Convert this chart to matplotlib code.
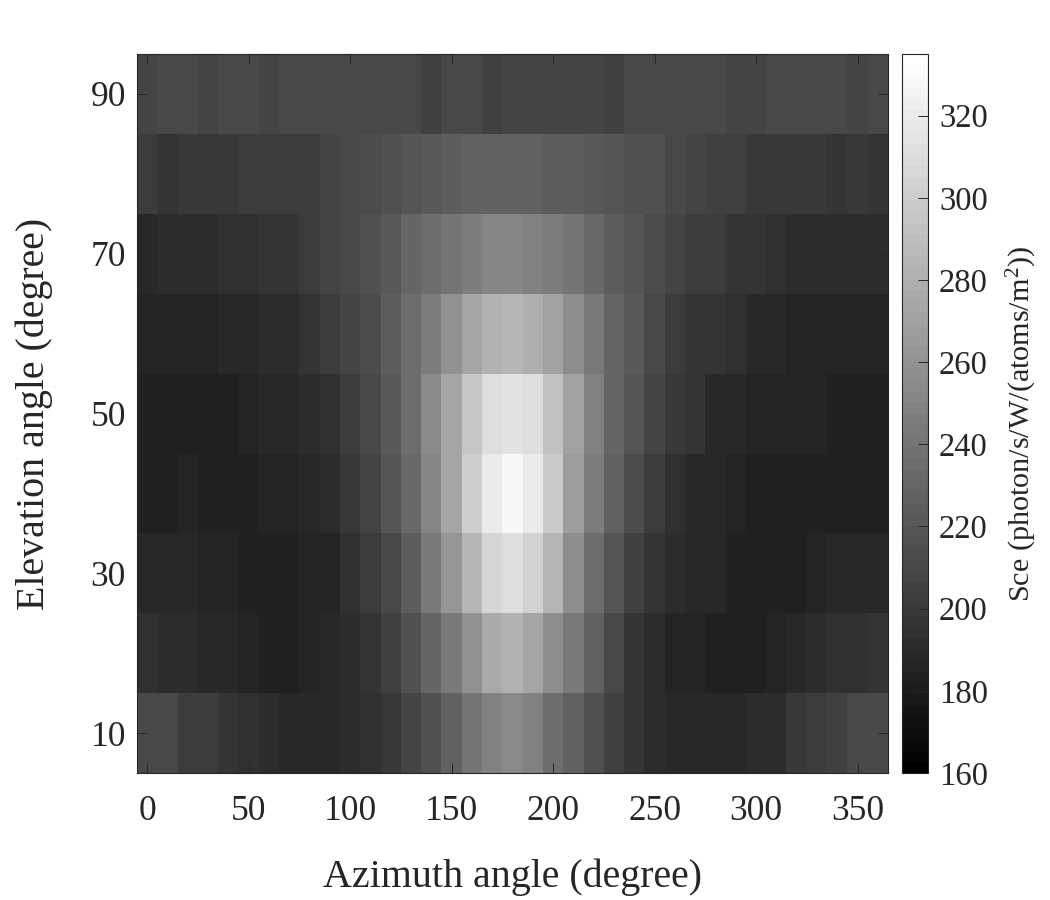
import numpy as np
import matplotlib
matplotlib.use("Agg")
import matplotlib.pyplot as plt

plt.rcParams['font.family'] = ['Liberation Serif', 'DejaVu Serif']
plt.rcParams['mathtext.fontset'] = 'custom'
plt.rcParams['mathtext.rm'] = 'Liberation Serif'
plt.rcParams['mathtext.default'] = 'regular'

# azimuth every 10 degree, elevation every 10 degree
azimuth = np.arange(0, 370, 10)
elevation = np.arange(10, 100, 10)

# values, one row per elevation
sce_90 = [206.6, 209.4, 209.4, 206.6, 209.4, 209.4, 206.6, 209.4, 209.4, 209.4, 209.4, 209.4, 209.4, 209.4, 203.9, 209.4, 209.4, 203.9, 206.6,
          208.0, 208.0, 208.0, 208.0, 203.9, 209.4, 209.4, 209.4, 209.4, 209.4, 206.6, 206.6, 210.8, 210.8, 210.8, 210.8, 206.6, 209.4]
sce_80 = [201.2, 195.7, 198.4, 198.4, 198.4, 201.2, 201.2, 202.5, 202.5, 206.6, 209.4, 212.1, 214.9, 217.6, 220.4, 223.1, 225.9, 225.9, 225.9,
          225.9, 223.1, 223.1, 220.4, 217.6, 214.9, 214.9, 209.4, 206.6, 203.9, 203.9, 199.8, 198.4, 198.4, 198.4, 195.7, 198.4, 195.7]
sce_70 = [188.8, 190.2, 190.2, 190.2, 192.9, 192.9, 195.7, 197.0, 201.2, 206.6, 209.4, 214.9, 220.4, 228.6, 234.1, 241.0, 245.1, 250.6, 251.9,
          249.2, 246.4, 241.0, 232.7, 224.5, 219.0, 212.1, 208.0, 202.5, 202.5, 195.7, 195.7, 192.9, 190.2, 190.2, 190.2, 190.2, 190.2]
sce_60 = [186.0, 186.0, 186.0, 186.0, 188.7, 188.7, 190.2, 191.6, 195.7, 201.2, 206.6, 212.1, 223.1, 234.1, 245.1, 258.8, 272.5, 282.1, 284.9,
          279.4, 269.8, 256.0, 243.7, 230.0, 220.4, 209.4, 201.2, 197.0, 197.0, 192.9, 188.8, 188.8, 186.0, 186.0, 186.0, 186.0, 186.0]
sce_50 = [183.2, 183.2, 183.2, 183.2, 183.2, 186.0, 188.7, 188.7, 191.6, 192.9, 202.5, 210.8, 220.4, 235.5, 253.3, 273.9, 295.8, 312.3, 315.0,
          310.9, 291.7, 271.1, 249.2, 230.0, 219.0, 208.0, 199.8, 196.9, 188.8, 188.7, 186.0, 186.0, 186.0, 186.0, 183.2, 183.2, 183.2]
sce_40 = [183.2, 183.2, 186.0, 183.2, 183.2, 183.2, 186.0, 186.0, 188.7, 190.2, 198.4, 206.6, 219.0, 232.7, 250.6, 273.9, 299.9, 320.5, 328.8,
          319.2, 297.2, 268.4, 246.4, 227.2, 212.1, 201.2, 194.3, 188.8, 188.8, 186.0, 183.2, 183.2, 183.2, 183.2, 183.2, 183.2, 183.2]
sce_30 = [188.7, 188.7, 188.7, 186.0, 186.0, 183.2, 183.2, 183.2, 186.0, 186.0, 192.9, 201.2, 210.8, 224.5, 242.3, 262.9, 283.5, 305.4, 310.9,
          304.1, 283.5, 257.4, 235.5, 219.0, 205.3, 197.0, 191.6, 188.7, 188.7, 183.2, 183.2, 183.2, 183.2, 186.0, 188.7, 188.7, 188.7]
sce_20 = [194.3, 191.6, 191.6, 188.8, 188.7, 186.0, 183.2, 183.2, 186.0, 188.8, 190.2, 195.7, 205.3, 214.9, 230.0, 243.7, 260.2, 276.6, 282.1,
          273.9, 257.4, 242.3, 225.9, 209.4, 197.0, 191.6, 186.0, 186.0, 183.2, 183.2, 183.2, 186.0, 188.7, 190.2, 192.9, 192.9, 195.7]
sce_10 = [209.4, 209.4, 202.5, 201.2, 195.7, 192.9, 190.2, 188.7, 188.7, 188.7, 190.2, 194.3, 199.8, 206.6, 216.3, 225.9, 241.0, 249.2, 253.3,
          247.8, 234.1, 225.9, 214.9, 205.3, 197.0, 191.6, 188.7, 188.7, 188.7, 188.7, 190.2, 191.6, 198.4, 202.5, 205.3, 209.4, 209.4]

sce = np.array([sce_10, sce_20, sce_30, sce_40, sce_50, sce_60, sce_70, sce_80, sce_90])

W, H = 1050.0, 900.0
dark = '#262626'

fig = plt.figure(figsize=(10.5, 9), dpi=100)
ax = fig.add_axes([137/W, 1 - 773/H, (888 - 137)/W, (773 - 54)/H])
cax = fig.add_axes([902/W, 1 - 773/H, (928 - 902)/W, (773 - 54)/H])

cmap = plt.get_cmap('gray', 64)
img = ax.imshow(sce, origin='lower', aspect='auto', cmap=cmap, vmin=160, vmax=335,
                interpolation='nearest', extent=[-5, 365, 5, 95])

ax.set_xticks(np.arange(0, 351, 50))
ax.set_yticks(np.arange(10, 91, 20))
ax.tick_params(direction='in', length=7, width=0.7, top=True, right=True, color=dark,
               labelcolor=dark, labelsize=25.5)
ax.tick_params(axis='x', pad=16)
ax.tick_params(axis='y', pad=8)
ax.set_xlabel("Azimuth angle (degree)", fontsize=28.8, color=dark, labelpad=22)
ax.set_ylabel("Elevation angle (degree)", fontsize=28.8, color=dark, labelpad=27)
for s in ax.spines.values():
    s.set_linewidth(0.8)
    s.set_color(dark)

cbar = fig.colorbar(img, cax=cax)
cbar.set_ticks(np.arange(160, 321, 20))
cbar.ax.tick_params(direction='in', length=7, width=0.7, color=dark, labelcolor=dark,
                    labelsize=23.5, pad=8)
cbar.outline.set_linewidth(0.8)
cbar.outline.set_edgecolor(dark)
cbar.set_label(r"Sce (photon/s/W/(atoms/m$^{2}$))", fontsize=21.7, color=dark, labelpad=12)
cbar.ax.yaxis.label.set_y(0.485)

fig.savefig("out.png", dpi=100)
